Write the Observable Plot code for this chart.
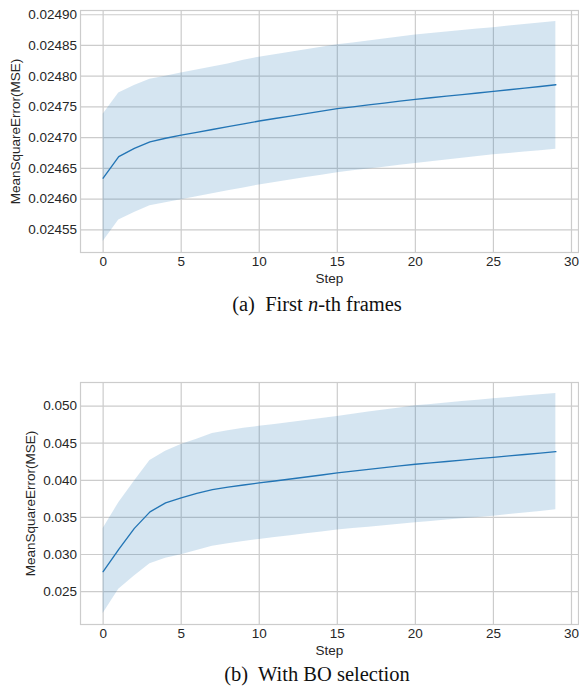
<!DOCTYPE html>
<html>
<head>
<meta charset="utf-8">
<script src="https://cdn.jsdelivr.net/npm/d3@7"></script>
<script src="https://cdn.jsdelivr.net/npm/@observablehq/plot@0.6"></script>
<style>
  html, body { margin: 0; padding: 0; background: white; }
  #root { position: relative; width: 579px; height: 686px; overflow: hidden; background: white; }
  .panel { position: absolute; left: 0; }
  .cap { position: absolute; left: 317px; transform: translateX(-50%); white-space: pre;
         font-family: "Liberation Serif", "Times New Roman", serif; font-size: 20.5px; line-height: 20px; color: #111; }
</style>
</head>
<body>
<div id="root"></div>
<script>
// ---- data ----
const steps = d3.range(0, 30);
const xTicks = [0, 5, 10, 15, 20, 25, 30];

const aTicks = [0.02455, 0.02460, 0.02465, 0.02470, 0.02475, 0.02480, 0.02485, 0.02490];
const aMean = [0.0246340, 0.0246690, 0.0246824, 0.0246931, 0.0246990, 0.0247040, 0.0247087, 0.0247133, 0.0247179, 0.0247225,
               0.0247271, 0.0247311, 0.0247351, 0.0247392, 0.0247432, 0.0247472, 0.0247502, 0.0247532, 0.0247563, 0.0247593,
               0.0247623, 0.0247649, 0.0247675, 0.0247701, 0.0247727, 0.0247753, 0.0247780, 0.0247807, 0.0247833, 0.0247860];
const aUpper = [0.0247380, 0.0247725, 0.0247850, 0.0247950, 0.0248000, 0.0248050, 0.0248100, 0.0248150, 0.0248200, 0.0248258,
                0.0248310, 0.0248350, 0.0248390, 0.0248430, 0.0248470, 0.0248510, 0.0248542, 0.0248574, 0.0248606, 0.0248638,
                0.0248670, 0.0248694, 0.0248718, 0.0248742, 0.0248766, 0.0248790, 0.0248815, 0.0248840, 0.0248865, 0.0248890];
const aLower = [0.0245310, 0.0245660, 0.0245780, 0.0245890, 0.0245940, 0.0245990, 0.0246038, 0.0246086, 0.0246134, 0.0246182,
                0.0246230, 0.0246270, 0.0246310, 0.0246350, 0.0246390, 0.0246430, 0.0246460, 0.0246490, 0.0246520, 0.0246550,
                0.0246580, 0.0246608, 0.0246636, 0.0246664, 0.0246692, 0.0246720, 0.0246742, 0.0246765, 0.0246788, 0.0246810];

const bTicks = [0.025, 0.030, 0.035, 0.040, 0.045, 0.050];
const bMean = [0.02769, 0.0307, 0.03352, 0.03575, 0.03696, 0.03764, 0.03825, 0.03875, 0.03908, 0.03937,
               0.03965, 0.03991, 0.04018, 0.04045, 0.04072, 0.04100, 0.04124, 0.04148, 0.04172, 0.04194,
               0.04216, 0.04235, 0.04254, 0.04273, 0.04292, 0.04310, 0.04329, 0.04348, 0.04367, 0.04386];
const bUpper = [0.03352, 0.03696, 0.03988, 0.04266, 0.04391, 0.04481, 0.04555, 0.04630, 0.04668, 0.04700,
                0.04727, 0.04753, 0.04780, 0.04807, 0.04834, 0.04861, 0.04890, 0.04919, 0.04948, 0.04976,
                0.05004, 0.05023, 0.05042, 0.05061, 0.05080, 0.05099, 0.05117, 0.05135, 0.05153, 0.05170];
const bLower = [0.02205, 0.02532, 0.02711, 0.02876, 0.02949, 0.02998, 0.03055, 0.03112, 0.03146, 0.03176,
                0.03204, 0.03229, 0.03254, 0.03279, 0.03304, 0.03329, 0.03349, 0.03369, 0.03389, 0.03409,
                0.03428, 0.03446, 0.03464, 0.03482, 0.03500, 0.03517, 0.03538, 0.03559, 0.03581, 0.03602];

const xLabel = "Step";
const yLabel = "MeanSquareError(MSE)";

// ---- drawing ----
const GRID = "#cccccc";
const BLUE = "#2375b5";

function extentPad(lo, hi) {
  const min = d3.min(lo), max = d3.max(hi), m = (max - min) * 0.05;
  return [min - m, max + m];
}

function panel(mean, upper, lower, yTicks, fmt, labelOffset) {
  const data = steps.map((s, i) => ({step: s, mean: mean[i], lo: lower[i], hi: upper[i]}));
  return Plot.plot({
    width: 579, height: 290,
    marginLeft: 80, marginRight: 1, marginTop: 10, marginBottom: 38,
    style: {fontFamily: "'Liberation Sans', Arial, sans-serif", fontSize: "13.5px", color: "#262626", background: "white", overflow: "visible"},
    x: {domain: [-1.45, 30.45]},
    y: {domain: extentPad(lower, upper)},
    marks: [
      Plot.gridX(xTicks, {stroke: GRID, strokeOpacity: 1, strokeWidth: 1.2}),
      Plot.gridY(yTicks, {stroke: GRID, strokeOpacity: 1, strokeWidth: 1.2}),
      Plot.frame({stroke: GRID, strokeWidth: 1.2}),
      Plot.areaY(data, {x: "step", y1: "lo", y2: "hi", fill: "#1f77b4", fillOpacity: 0.19}),
      Plot.lineY(data, {x: "step", y: "mean", stroke: BLUE, strokeWidth: 1.35}),
      Plot.axisX(xTicks, {tickSize: 0, tickPadding: 3.5, label: xLabel, labelAnchor: "center", labelArrow: "none", labelOffset: 30}),
      Plot.axisY(yTicks, {tickSize: 0, tickPadding: 3.5, tickFormat: d3.format(fmt), label: yLabel, labelAnchor: "center", labelArrow: "none", labelOffset})
    ]
  });
}

const root = document.getElementById("root");

const pa = panel(aMean, aUpper, aLower, aTicks, ".5f", 70);
pa.classList.add("panel"); pa.style.top = "0px";
root.appendChild(pa);

const ca = document.createElement("div");
ca.className = "cap"; ca.style.top = "294px";
ca.innerHTML = "(a)  First <i>n</i>-th frames";
root.appendChild(ca);

const pb = panel(bMean, bUpper, bLower, bTicks, ".3f", 55);
pb.classList.add("panel"); pb.style.top = "372px";
root.appendChild(pb);

const cb = document.createElement("div");
cb.className = "cap"; cb.style.top = "664px";
cb.textContent = "(b)  With BO selection";
root.appendChild(cb);
</script>
</body>
</html>
